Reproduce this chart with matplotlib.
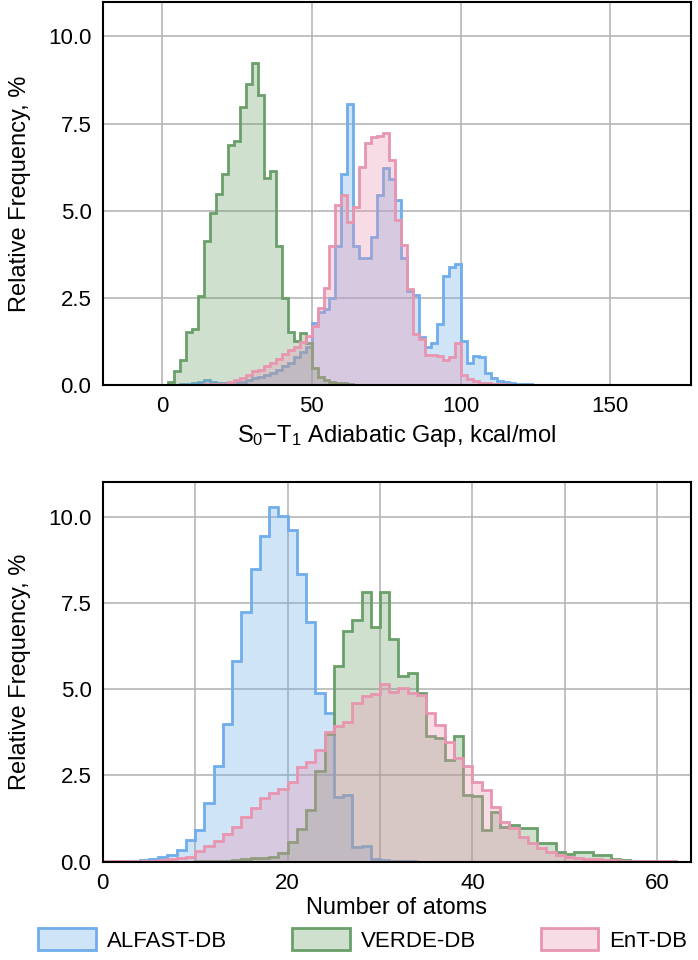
import matplotlib
matplotlib.use("Agg")
import matplotlib.pyplot as plt
import numpy as np
from matplotlib.patches import Patch
from matplotlib.colors import to_rgba

plt.rcParams['font.family'] = ['Liberation Sans', 'DejaVu Sans']
plt.rcParams['mathtext.default'] = 'regular'

# 数据：S0-T1 间隙直方图（2 kcal/mol 一格，从 0 开始），单位 %
gapStart = 0
gapAlfast = [0.01, 0.02, 0.02, 0.03, 0.05, 0.08, 0.10, 0.15, 0.10, 0.08,
             0.07, 0.08, 0.10, 0.10, 0.15, 0.20, 0.25, 0.30, 0.35, 0.45,
             0.55, 0.65, 0.80, 0.95, 1.10, 1.80, 2.10, 2.20, 2.50, 4.00,
             6.07, 8.05, 4.00, 3.64, 3.64, 4.26, 5.45, 6.24, 5.90, 5.30,
             3.64, 2.70, 2.59, 1.39, 1.10, 1.20, 1.77, 3.14, 3.40, 3.48,
             1.26, 0.63, 0.84, 0.80, 0.35, 0.20, 0.12, 0.10, 0.07, 0.05,
             0.04, 0.03, 0.02, 0.01, 0.01]
gapVerde = [0.02, 0.10, 0.40, 0.72, 1.52, 1.62, 2.55, 4.13, 4.93, 5.47,
            6.06, 6.90, 7.00, 7.98, 8.63, 9.25, 8.32, 5.93, 6.15, 4.00,
            2.49, 1.54, 1.28, 1.50, 1.20, 0.50, 0.25, 0.15, 0.10, 0.08,
            0.07, 0.03, 0.02]
gapEnt = [0.01, 0.01, 0.01, 0.01, 0.02, 0.02, 0.02, 0.03, 0.03, 0.04,
          0.05, 0.10, 0.15, 0.20, 0.30, 0.40, 0.45, 0.55, 0.65, 0.75,
          0.90, 1.00, 1.10, 1.25, 1.42, 1.70, 2.23, 2.80, 4.00, 5.18,
          5.46, 4.67, 5.12, 6.27, 6.95, 7.12, 7.15, 7.23, 6.45, 4.73,
          4.02, 2.75, 1.47, 1.33, 0.87, 0.87, 0.85, 0.72, 0.80, 1.22,
          0.30, 0.18, 0.12, 0.08, 0.06, 0.05, 0.04, 0.03, 0.02, 0.02,
          0.01, 0.01, 0.01]
gapEdges = np.arange(-20, 178, 2)

# 数据：原子数直方图（1 个原子一格，从 0 开始），单位 %
atomAlfast = [0.00, 0.01, 0.01, 0.03, 0.05, 0.08, 0.15, 0.18, 0.34, 0.63,
              0.93, 1.70, 2.78, 4.00, 5.82, 7.25, 8.49, 9.43, 10.27, 10.03,
              9.62, 8.35, 6.95, 4.90, 4.32, 1.87, 1.94, 0.44, 0.46, 0.08,
              0.05, 0.03, 0.02, 0.01]
atomVerde = [0.00, 0.00, 0.00, 0.00, 0.00, 0.00, 0.00, 0.00, 0.00, 0.00,
             0.01, 0.01, 0.02, 0.03, 0.05, 0.07, 0.10, 0.10, 0.15, 0.25,
             0.58, 0.95, 1.50, 2.63, 3.69, 5.68, 6.70, 7.00, 7.82, 6.80,
             7.82, 6.47, 5.39, 5.48, 4.88, 3.65, 3.60, 2.96, 3.65, 1.94,
             1.90, 0.92, 1.45, 1.02, 1.07, 0.97, 0.97, 0.53, 0.55, 0.29,
             0.22, 0.29, 0.29, 0.19, 0.18, 0.07, 0.06, 0.03, 0.02, 0.01]
atomEnt = [0.01, 0.01, 0.01, 0.02, 0.02, 0.03, 0.05, 0.07, 0.10, 0.15,
           0.30, 0.45, 0.60, 0.80, 1.00, 1.30, 1.55, 1.85, 1.98, 2.10,
           2.32, 2.76, 2.90, 3.24, 3.75, 3.92, 4.04, 4.60, 4.81, 4.86,
           5.16, 4.91, 5.03, 4.89, 4.84, 4.30, 3.95, 3.46, 3.00, 2.78,
           2.30, 2.08, 1.60, 1.16, 0.97, 0.73, 0.53, 0.39, 0.29, 0.19,
           0.15, 0.10, 0.09, 0.08, 0.06, 0.04, 0.03, 0.02, 0.01, 0.01,
           0.01, 0.01, 0.005]
atomEdges = np.arange(0, 64, 1)

names = ["ALFAST-DB", "VERDE-DB", "EnT-DB"]
colors = ["#6fadeb", "#6a9f6a", "#e895b0"]
fillAlpha = 0.32


def fullBins(values, start, edges):
    # 把读出的数值放进整段 bins 里，其余为空
    out = np.zeros(len(edges) - 1)
    i0 = int(np.searchsorted(edges, start))
    out[i0:i0 + len(values)] = values
    return out


def drawHist(ax, seriesList, start, edges):
    for vals, c, n in zip(seriesList, colors, names):
        ax.stairs(fullBins(vals, start, edges), edges, fill=True,
                  facecolor=to_rgba(c, fillAlpha), edgecolor=c,
                  linewidth=2.0, label=n)


def styleAxes(ax):
    ax.set_ylim(0, 11)
    ax.set_yticks([0, 2.5, 5.0, 7.5, 10.0])
    ax.set_yticklabels(["0.0", "2.5", "5.0", "7.5", "10.0"])
    ax.grid(True, which="both", color="#b0b0b0", linewidth=1.1)
    ax.set_axisbelow(True)
    ax.tick_params(which="both", length=0, pad=8, labelsize=16)
    for s in ax.spines.values():
        s.set_color("black")
        s.set_linewidth(1.5)
    ax.set_ylabel("Relative Frequency, %", fontsize=17, labelpad=12)


fig = plt.figure(figsize=(6.98, 9.6), dpi=100)
ax1 = fig.add_axes([0.147, 0.5986, 0.8425, 0.3998])
ax2 = fig.add_axes([0.147, 0.1024, 0.8425, 0.3952])

drawHist(ax1, [gapAlfast, gapVerde, gapEnt], gapStart, gapEdges)
ax1.set_xlim(-20, 177)
ax1.set_xticks([0, 50, 100, 150])
styleAxes(ax1)
ax1.set_xlabel("S$_0$\u2212T$_1$ Adiabatic Gap, kcal/mol", fontsize=17, labelpad=4)

drawHist(ax2, [atomAlfast, atomVerde, atomEnt], 0, atomEdges)
ax2.set_xlim(0, 63.6)
ax2.set_xticks([0, 20, 40, 60])
ax2.set_xticks([10, 30, 50], minor=True)
styleAxes(ax2)
ax2.set_xlabel("Number of atoms", fontsize=17, labelpad=2)

handles = [Patch(facecolor=to_rgba(c, fillAlpha), edgecolor=c, linewidth=2.0)
           for c in colors]
fig.legend(handles, names, loc="lower center", bbox_to_anchor=(0.52, -0.012),
           ncol=3, frameon=False, fontsize=16, handlelength=2.6,
           handleheight=1.1, columnspacing=2.9, handletextpad=0.5)

fig.savefig("out.png", dpi=100)
